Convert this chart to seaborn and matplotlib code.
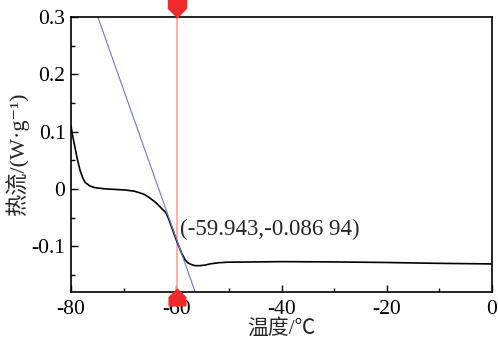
import numpy as np
import pandas as pd
import matplotlib
matplotlib.use("Agg")
import matplotlib.pyplot as plt
import seaborn as sns
from matplotlib.path import Path

# Data
temperature = [-80.0, -79.8, -79.3, -78.8, -78.3, -77.8, -77.3, -76.4, -75.4, -73.5, -71.5,
               -69.7, -68.0, -66.9, -66.0, -65.0, -64.0, -63.1, -62.6, -62.1, -61.5,
               -60.9, -60.2, -59.6, -59.0, -58.3, -57.8, -57.4, -56.5, -55.5, -54.5,
               -53.6, -52.0, -50.3, -45.0, -40.0, -30.2, -20.0, -10.0, 0.0]
heat_flow = [0.110, 0.098, 0.075, 0.052, 0.033, 0.020, 0.011, 0.005, 0.002, -0.000, -0.001,
             -0.002, -0.004, -0.007, -0.010, -0.016, -0.023, -0.031, -0.036, -0.040, -0.051,
             -0.066, -0.084, -0.098, -0.112, -0.124, -0.129, -0.131, -0.134, -0.134, -0.133,
             -0.131, -0.129, -0.128, -0.1275, -0.127, -0.1275, -0.1285, -0.130, -0.131]
tangent_T = [-74.9, -56.4]
tangent_y = [0.300, -0.180]
onset_T = -59.943
onset_y = -0.08694
annotation = "(-59.943,-0.086 94)"
x_ticks = [-80, -60, -40, -20, 0]
y_ticks = [-0.1, 0, 0.1, 0.2, 0.3]
x_label = "温度/℃"
y_label = "热流/(W·g⁻¹)"

sns.set_theme(style="ticks")
fam = ["Liberation Serif", "Noto Sans CJK SC", "DejaVu Sans"]
plt.rcParams["font.family"] = fam

fig = plt.figure(figsize=(4.98, 3.45), dpi=100)
ax = fig.add_axes([71/498, 1 - 292/345, (492-71)/498, (292-17)/345])

df = pd.DataFrame({"T": temperature, "q": heat_flow})
sns.lineplot(data=df, x="T", y="q", ax=ax, color="black", linewidth=1.2, sort=False)
ax.plot(tangent_T, tangent_y, color="#6478d8", linewidth=0.8)
ax.axvline(onset_T, color="#f6aaa4", linewidth=1.3, zorder=1)

# markers
down_house = Path([(-1, 1), (1, 1), (1, 0), (0, -1), (-1, 0), (-1, 1)],
                  [Path.MOVETO, Path.LINETO, Path.LINETO, Path.LINETO, Path.LINETO, Path.CLOSEPOLY])
up_house = Path([(-1, -1), (1, -1), (1, 0), (0, 1), (-1, 0), (-1, -1)],
                [Path.MOVETO, Path.LINETO, Path.LINETO, Path.LINETO, Path.LINETO, Path.CLOSEPOLY])
ax.plot([onset_T], [0.3 + 9 * 0.001745], marker=down_house, markersize=13,
        color="#ee2a2a", clip_on=False, zorder=5)
ax.plot([onset_T], [-0.18 - 5 * 0.001745], marker=up_house, markersize=12,
        color="#ee2a2a", clip_on=False, zorder=5)

ax.text(-59.3, -0.070, annotation, fontsize=16.5, family=fam, ha="left", va="center")

ax.set_xlim(-80, 0)
ax.set_ylim(-0.18, 0.3)
ax.set_xticks(x_ticks)
ax.set_xticklabels([str(t) for t in x_ticks])
ax.set_yticks(y_ticks)
ax.set_yticklabels(["-0.1", "0", "0.1", "0.2", "0.3"])
ax.set_xticks(np.arange(-70, 0, 20), minor=True)
ax.set_yticks(np.arange(-0.15, 0.3, 0.1), minor=True)
ax.tick_params(which="both", direction="in", top=False, right=False, labelsize=15.5,
               width=1.0, colors="black")
ax.tick_params(axis="x", pad=6)
ax.tick_params(axis="y", pad=4)
ax.tick_params(which="major", length=5)
ax.tick_params(which="minor", length=3)
for s in ax.spines.values():
    s.set_visible(True)
    s.set_color("black")
    s.set_linewidth(1.2)

ax.set_xlabel(x_label, fontsize=15, family=fam, labelpad=0)
ax.set_ylabel(y_label, fontsize=16, family=fam, labelpad=2)

fig.savefig("out.png", dpi=100, facecolor="white")
